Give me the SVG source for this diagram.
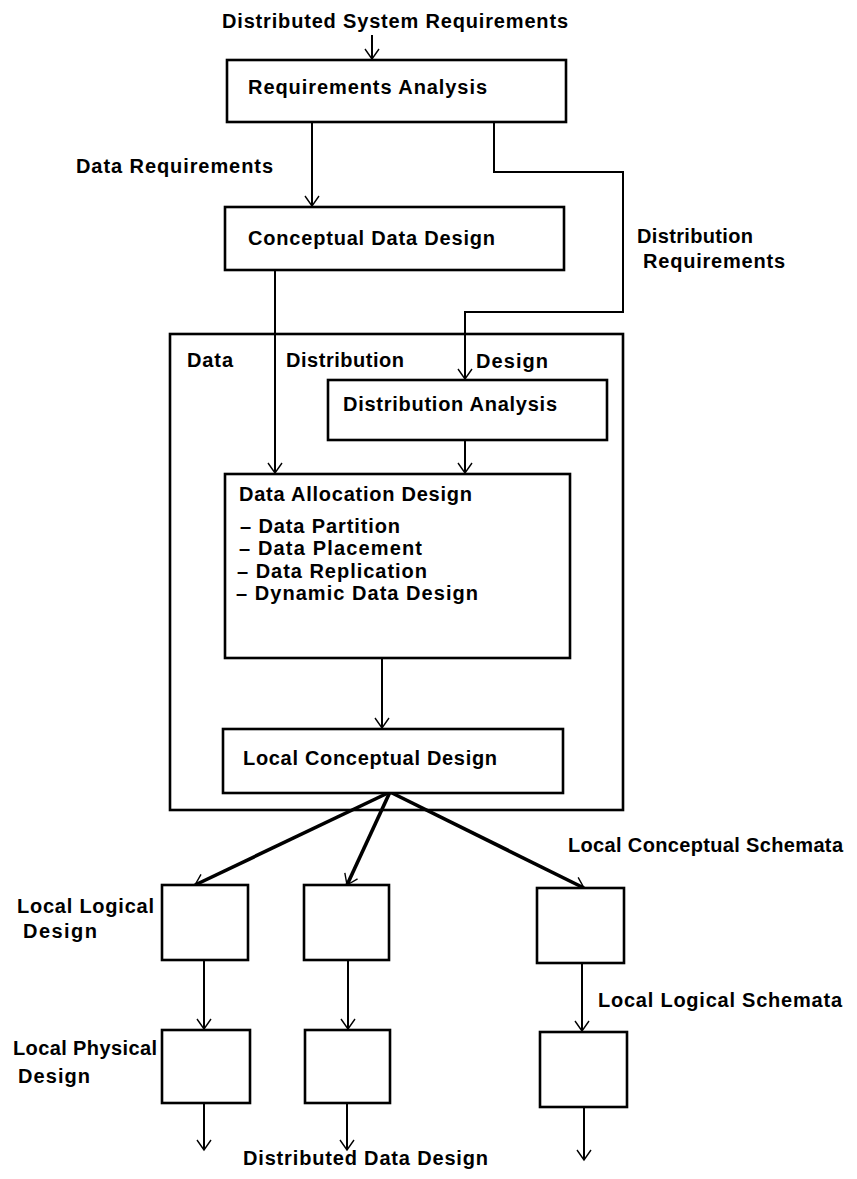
<svg xmlns="http://www.w3.org/2000/svg" width="857" height="1179" viewBox="0 0 857 1179">
  <style>
    .box { fill: #ffffff; stroke: #000000; stroke-width: 2.6; }
    .frame { fill: none; stroke: #000000; stroke-width: 2.6; }
    .wire { fill: none; stroke: #000000; stroke-width: 2; }
    .fan { fill: none; stroke: #000000; stroke-width: 3.6; }
    .lbl { font-family: "Liberation Sans", Arial, sans-serif; font-weight: bold; font-size: 20px; fill: #000000; }
  </style>
  <defs>
    <marker id="vee" viewBox="-12 -9 14 18" markerWidth="14" markerHeight="18" refX="0" refY="0" orient="auto" markerUnits="userSpaceOnUse">
      <path d="M -10 -7 L 0 0 L -10 7" fill="none" stroke="#000000" stroke-width="1.4"/>
    </marker>
  </defs>
  <rect width="857" height="1179" fill="#ffffff"/>

  <!-- outer frame: data distribution design -->
  <g id="frame-distribution-design">
    <rect class="frame" x="170" y="334" width="453" height="476"/>
    <text class="lbl" x="187" y="367" textLength="46">Data</text>
    <text class="lbl" x="286" y="367" textLength="118">Distribution</text>
    <text class="lbl" x="476" y="368" textLength="72">Design</text>
  </g>

  <!-- connectors -->
  <g id="connectors">
    <line class="wire" x1="372" y1="35" x2="372" y2="59" marker-end="url(#vee)"/>
    <line class="wire" x1="312" y1="122" x2="312" y2="206" marker-end="url(#vee)"/>
    <polyline class="wire" points="494,122 494,172 623,172 623,312 465,312 465,379" marker-end="url(#vee)"/>
    <line class="wire" x1="275" y1="270" x2="275" y2="473" marker-end="url(#vee)"/>
    <line class="wire" x1="465" y1="440" x2="465" y2="473" marker-end="url(#vee)"/>
    <line class="wire" x1="382" y1="658" x2="382" y2="728" marker-end="url(#vee)"/>
    <line class="fan" x1="390" y1="792" x2="195" y2="885" marker-end="url(#vee)"/>
    <line class="fan" x1="390" y1="792" x2="347" y2="885" marker-end="url(#vee)"/>
    <line class="fan" x1="390" y1="792" x2="584" y2="888" marker-end="url(#vee)"/>
    <line class="wire" x1="204" y1="960" x2="204" y2="1029" marker-end="url(#vee)"/>
    <line class="wire" x1="348" y1="960" x2="348" y2="1029" marker-end="url(#vee)"/>
    <line class="wire" x1="582" y1="963" x2="582" y2="1031" marker-end="url(#vee)"/>
    <line class="wire" x1="204" y1="1103" x2="204" y2="1150" marker-end="url(#vee)"/>
    <line class="wire" x1="347" y1="1103" x2="347" y2="1150" marker-end="url(#vee)"/>
    <line class="wire" x1="584" y1="1107" x2="584" y2="1160" marker-end="url(#vee)"/>
  </g>

  <!-- free-standing flow labels -->
  <g id="labels">
    <text class="lbl" x="222" y="28" textLength="346">Distributed System Requirements</text>
    <text class="lbl" x="76" y="173" textLength="197">Data Requirements</text>
    <text class="lbl" x="637" y="243" textLength="116">Distribution</text>
    <text class="lbl" x="643" y="268" textLength="142">Requirements</text>
    <text class="lbl" x="568" y="852" textLength="275">Local Conceptual Schemata</text>
    <text class="lbl" x="598" y="1007" textLength="244">Local Logical Schemata</text>
    <text class="lbl" x="17" y="913" textLength="137">Local Logical</text>
    <text class="lbl" x="23" y="938" textLength="74">Design</text>
    <text class="lbl" x="13" y="1055" textLength="144">Local Physical</text>
    <text class="lbl" x="18" y="1083" textLength="72">Design</text>
    <text class="lbl" x="243" y="1165" textLength="245">Distributed Data Design</text>
  </g>

  <g id="requirements-analysis">
    <rect class="box" x="227" y="60" width="339" height="62"/>
    <text class="lbl" x="248" y="94" textLength="239">Requirements Analysis</text>
  </g>

  <g id="conceptual-data-design">
    <rect class="box" x="225" y="207" width="339" height="63"/>
    <text class="lbl" x="248" y="245" textLength="247">Conceptual Data Design</text>
  </g>

  <g id="distribution-analysis">
    <rect class="box" x="328" y="380" width="279" height="60"/>
    <text class="lbl" x="343" y="411" textLength="214">Distribution Analysis</text>
  </g>

  <g id="data-allocation-design">
    <rect class="box" x="225" y="474" width="345" height="184"/>
    <text class="lbl" x="239" y="501" textLength="233">Data Allocation Design</text>
    <text class="lbl" x="240" y="533" textLength="160">– Data Partition</text>
    <text class="lbl" x="239" y="555" textLength="183">– Data Placement</text>
    <text class="lbl" x="237" y="578" textLength="190">– Data Replication</text>
    <text class="lbl" x="236" y="600" textLength="242">– Dynamic Data Design</text>
  </g>

  <g id="local-conceptual-design">
    <rect class="box" x="223" y="729" width="340" height="64"/>
    <text class="lbl" x="243" y="765" textLength="254">Local Conceptual Design</text>
  </g>

  <g id="site-1-logical"><rect class="box" x="162" y="885" width="86" height="75"/></g>
  <g id="site-2-logical"><rect class="box" x="304" y="885" width="85" height="75"/></g>
  <g id="site-n-logical"><rect class="box" x="537" y="888" width="87" height="75"/></g>
  <g id="site-1-physical"><rect class="box" x="162" y="1030" width="88" height="73"/></g>
  <g id="site-2-physical"><rect class="box" x="305" y="1030" width="85" height="73"/></g>
  <g id="site-n-physical"><rect class="box" x="540" y="1032" width="87" height="75"/></g>
</svg>
